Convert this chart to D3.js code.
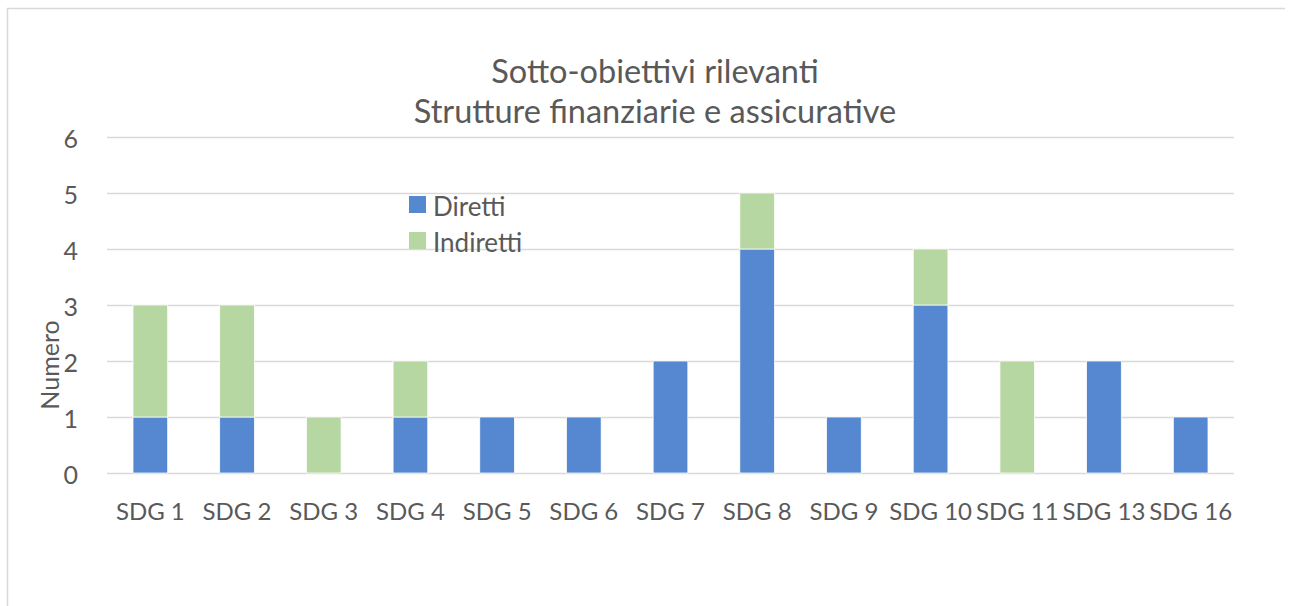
<!DOCTYPE html>
<html>
<head>
<meta charset="utf-8">
<script src="https://cdn.jsdelivr.net/npm/d3@7"></script>
<style>
  body { margin: 0; background: #fff; }
  text { font-family: Lato, "Open Sans", sans-serif; fill: #595959; }
</style>
</head>
<body>
<div id="chart"></div>
<script>
var categories = ["SDG 1", "SDG 2", "SDG 3", "SDG 4", "SDG 5", "SDG 6", "SDG 7", "SDG 8", "SDG 9", "SDG 10", "SDG 11", "SDG 13", "SDG 16"];
var diretti   = [1, 1, 0, 1, 1, 1, 2, 4, 1, 3, 0, 2, 1];
var indiretti = [2, 2, 1, 1, 0, 0, 0, 1, 0, 1, 2, 0, 0];
var seriesNames = ["Diretti", "Indiretti"];
var yTicks = [0, 1, 2, 3, 4, 5, 6];
var titleLines = ["Sotto-obiettivi rilevanti", "Strutture finanziarie e assicurative"];

var width = 1292, height = 606;
var margin = {top: 137, right: 58, bottom: 133, left: 107};
var plotwidth = width - margin.left - margin.right,
    plotheight = height - margin.top - margin.bottom;
var colors = {Diretti: "#5588d0", Indiretti: "#b6d7a1"};

var svg = d3.select("#chart")
            .append("svg")
            .attr("width", width)
            .attr("height", height);

// chart frame (only top and left edges are visible in the crop)
svg.append("path")
    .attr("d", "M7.5,606 V8.5 H1285")
    .attr("fill", "none")
    .attr("stroke", "#d9d9d9")
    .attr("stroke-width", 1.5);

svg.selectAll(".title")
    .data(titleLines)
    .enter()
    .append("text")
    .attr("class", "title")
    .attr("x", 655)
    .attr("y", function(d, i) { return 83 + i * 40; })
    .attr("text-anchor", "middle")
    .attr("font-size", "32.5px")
    .text(function(d) { return d; });

var canvas = svg.append("g")
            .attr("transform", "translate(" + margin.left + "," + margin.top + ")");

var x = d3.scaleBand().range([0, plotwidth]).domain(categories).padding(0),
    y = d3.scaleLinear().range([plotheight, 0]).domain([0, 6]);

// gridlines + y labels
var yAxis = canvas.append("g")
    .call(d3.axisLeft(y).tickValues(yTicks).tickSize(-plotwidth).tickPadding(29).tickFormat(d3.format("d")));
yAxis.select(".domain").remove();
yAxis.selectAll("line").attr("stroke", "#d9d9d9").attr("stroke-width", 1.5);
yAxis.selectAll("text").attr("font-size", "25px").attr("fill", "#595959").attr("dy", "0.42em");

var xAxis = canvas.append("g")
    .attr("transform", "translate(0," + plotheight + ")")
    .call(d3.axisBottom(x).tickSize(0));
xAxis.select(".domain").remove();
xAxis.selectAll("text").attr("font-size", "24px").attr("fill", "#595959")
    .attr("y", 47).attr("dy", 0);

canvas.append("text")
    .attr("transform", "rotate(-90)")
    .attr("x", -(365 - margin.top))
    .attr("y", 59 - margin.left)
    .attr("text-anchor", "middle")
    .attr("font-size", "25px")
    .text("Numero");

var table = categories.map(function(c, i) {
    return {cat: c, Diretti: diretti[i], Indiretti: indiretti[i]};
});
var stacked = d3.stack().keys(seriesNames)(table);
var barw = x.bandwidth() * 0.4;

canvas.selectAll(".series")
    .data(stacked)
    .enter()
    .append("g")
    .attr("class", "series")
    .attr("fill", function(d) { return colors[d.key]; })
    .selectAll("rect")
    .data(function(d) { return d.filter(function(p) { return p[1] > p[0]; }); })
    .enter()
    .append("rect")
    .attr("x", function(d) { return x(d.data.cat) + (x.bandwidth() - barw) / 2; })
    .attr("y", function(d) { return y(d[1]); })
    .attr("width", barw)
    .attr("height", function(d) { return y(d[0]) - y(d[1]); })
    .attr("stroke", "#ffffff")
    .attr("stroke-width", 0.75);

// legend
var legend = svg.selectAll(".legend")
    .data(seriesNames)
    .enter()
    .append("g")
    .attr("class", "legend")
    .attr("transform", function(d, i) { return "translate(409," + (196 + i * 36) + ")"; });
legend.append("rect")
    .attr("width", 17)
    .attr("height", 17)
    .attr("fill", function(d) { return colors[d]; });
legend.append("text")
    .attr("x", 24)
    .attr("y", 20)
    .attr("font-size", "26px")
    .text(function(d) { return d; });
</script>
</body>
</html>
